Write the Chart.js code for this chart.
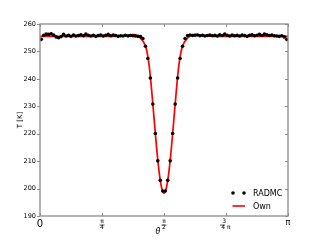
<!DOCTYPE html>
<html><head><meta charset="utf-8">
<script src="https://cdn.jsdelivr.net/npm/chart.js@4"></script>
<style>html,body{margin:0;padding:0;background:#fff}</style>
</head><body>
<canvas id="c" width="320" height="240"></canvas>
<script>
// RADMC temperatures, sampled at theta = (i+0.5)*pi/100, i = 0..99
const radmcT = [
 254.4,255.9,256.3,256.2,256.4,256.0,255.3,255.0,255.4,256.2,
 255.6,255.9,255.5,256.0,255.6,255.8,256.1,255.7,256.3,255.9,
 255.6,255.9,255.5,255.8,256.0,255.6,255.9,256.2,255.7,256.0,
 255.8,255.5,255.7,255.6,255.9,255.6,255.8,255.7,255.6,255.5,
 255.4,254.7,251.9,247.4,240.3,230.8,220.1,210.1,203.0,199.1,
 199.1,203.0,210.1,220.1,230.8,240.3,247.4,251.9,254.7,255.8,
 256.0,255.8,255.9,256.0,255.7,255.9,255.6,255.8,256.0,255.7,
 255.9,255.6,256.1,255.8,256.3,255.9,255.6,256.0,255.7,255.9,
 255.6,256.0,255.8,255.5,255.9,256.1,255.7,255.9,256.2,255.8,
 256.3,256.1,255.8,256.0,255.7,255.6,255.5,255.7,255.3,254.4
];
// Own model temperatures, sampled at theta = i*pi/100, i = 0..100
const ownT = [
 255.5,255.5,255.5,255.5,255.5,255.5,255.5,255.5,255.5,255.5,
 255.5,255.5,255.5,255.5,255.5,255.5,255.5,255.5,255.5,255.5,
 255.5,255.5,255.5,255.5,255.5,255.5,255.5,255.5,255.5,255.5,
 255.5,255.6,255.6,255.7,255.8,255.9,256.0,256.1,256.1,255.9,
 255.3,254.3,253.0,250.5,245.0,236.0,225.5,215.0,206.3,200.5,
 198.3,200.5,206.3,215.0,225.5,236.0,245.0,250.5,253.0,254.3,
 255.3,255.9,256.1,256.1,256.0,255.9,255.8,255.7,255.6,255.6,
 255.5,255.5,255.5,255.5,255.5,255.5,255.5,255.5,255.5,255.5,
 255.5,255.5,255.5,255.5,255.5,255.5,255.5,255.5,255.5,255.5,
 255.5,255.5,255.5,255.5,255.5,255.5,255.5,255.5,255.5,255.5,
 255.5
];
const seriesNames = ['RADMC', 'Own'];
const xTickValues = [0, Math.PI/4, Math.PI/2, 3*Math.PI/4, Math.PI];
const xTickLabels = ['0', ['π','4'], ['π','2'], ['3  ','4 π'], 'π'];
const yTickValues = [190, 200, 210, 220, 230, 240, 250, 260];
const xTitle = 'θ';
const yTitle = 'T [K]';

const radmcPts = radmcT.map((t, i) => ({x: (i + 0.5) * Math.PI / radmcT.length, y: t}));
const ownPts = ownT.map((t, i) => ({x: i * Math.PI / (ownT.length - 1), y: t}));

const FONT = 'DejaVu Sans';
const FRAC_SIZE = 6, FRAC_LH = 1.1, XPAD = 2;

const decor = {
  id: 'decor',
  afterDraw(chart) {
    const ctx = chart.ctx, a = chart.chartArea;
    const xs = chart.scales.x, ys = chart.scales.y;
    ctx.save();
    // frame
    ctx.strokeStyle = '#8c8c8c';
    ctx.lineWidth = 1.3;
    ctx.strokeRect(a.left, a.top, a.right - a.left, a.bottom - a.top);
    // ticks
    ctx.lineWidth = 1;
    ctx.beginPath();
    yTickValues.forEach(v => {
      const y = Math.round(ys.getPixelForValue(v)) + 0.5;
      ctx.moveTo(a.left - 3, y); ctx.lineTo(a.left, y);
      ctx.moveTo(a.right - 3, y); ctx.lineTo(a.right, y);
    });
    xTickValues.forEach(v => {
      const x = Math.round(xs.getPixelForValue(v)) + 0.5;
      ctx.moveTo(x, a.bottom); ctx.lineTo(x, a.bottom - 3);
      ctx.moveTo(x, a.top); ctx.lineTo(x, a.top + 3);
    });
    ctx.stroke();
    // fraction bars for tick labels
    ctx.strokeStyle = '#000';
    ctx.lineWidth = 0.7;
    const barY = a.bottom + XPAD + FRAC_SIZE * FRAC_LH + 0.5;
    ctx.beginPath();
    [1, 2].forEach(k => {
      const x = xs.getPixelForValue(xTickValues[k]);
      ctx.moveTo(x - 2.5, barY); ctx.lineTo(x + 2.5, barY);
    });
    const x3 = xs.getPixelForValue(xTickValues[3]) - 3.5;
    ctx.moveTo(x3 - 2.5, barY); ctx.lineTo(x3 + 2.5, barY);
    ctx.stroke();
    // axis titles
    ctx.fillStyle = '#000';
    ctx.font = 'italic 8px "' + FONT + '"';
    ctx.textAlign = 'center';
    ctx.textBaseline = 'middle';
    ctx.fillText(xTitle, 158, 232);
    ctx.save();
    ctx.translate(20, 120);
    ctx.rotate(-Math.PI / 2);
    ctx.font = '7px "' + FONT + '"';
    ctx.fillText(yTitle, 0, 0);
    ctx.restore();
    // legend
    ctx.font = '8px "' + FONT + '"';
    ctx.textAlign = 'left';
    ctx.fillStyle = '#000';
    [233, 244].forEach(x => { ctx.beginPath(); ctx.arc(x, 193, 1.8, 0, Math.PI * 2); ctx.fill(); });
    ctx.fillText(seriesNames[0], 253, 193.5);
    ctx.strokeStyle = '#ff0000';
    ctx.lineWidth = 1.6;
    ctx.beginPath(); ctx.moveTo(232.5, 206); ctx.lineTo(245, 206); ctx.stroke();
    ctx.fillText(seriesNames[1], 253, 206.5);
    ctx.restore();
  }
};

new Chart(document.getElementById('c'), {
  type: 'scatter',
  data: {
    datasets: [
      { label: seriesNames[0], data: radmcPts, showLine: false, pointRadius: 1.8,
        pointBackgroundColor: '#000', pointBorderColor: '#000', pointBorderWidth: 0, order: 0 },
      { label: seriesNames[1], data: ownPts, showLine: true, pointRadius: 0,
        borderColor: '#ff0000', borderWidth: 1.7, cubicInterpolationMode: 'monotone', order: 1 }
    ]
  },
  options: {
    responsive: false,
    animation: false,
    devicePixelRatio: 1,
    layout: { padding: { left: 0, top: 24, right: 32, bottom: 0 } },
    plugins: { legend: { display: false }, tooltip: { enabled: false } },
    scales: {
      x: {
        type: 'linear', min: 0, max: Math.PI,
        afterBuildTicks: s => { s.ticks = xTickValues.map(v => ({ value: v })); },
        afterFit: s => { s.height = 24; },
        grid: { display: false, drawTicks: false }, border: { display: false },
        ticks: {
          autoSkip: false, maxRotation: 0, minRotation: 0, padding: XPAD, color: '#000',
          callback: (v, i) => xTickLabels[i],
          font: c => (c.index === 0 ? { family: FONT, size: 10 }
                    : c.index === 4 ? { family: FONT, size: 8 }
                    : { family: FONT, size: FRAC_SIZE, lineHeight: FRAC_LH })
        }
      },
      y: {
        type: 'linear', min: 190, max: 260,
        afterBuildTicks: s => { s.ticks = yTickValues.map(v => ({ value: v })); },
        afterFit: s => { s.width = 40; },
        grid: { display: false, drawTicks: false }, border: { display: false },
        ticks: { padding: 4, color: '#000', font: { family: FONT, size: 6.5 } }
      }
    }
  },
  plugins: [decor]
});
</script>
</body></html>
